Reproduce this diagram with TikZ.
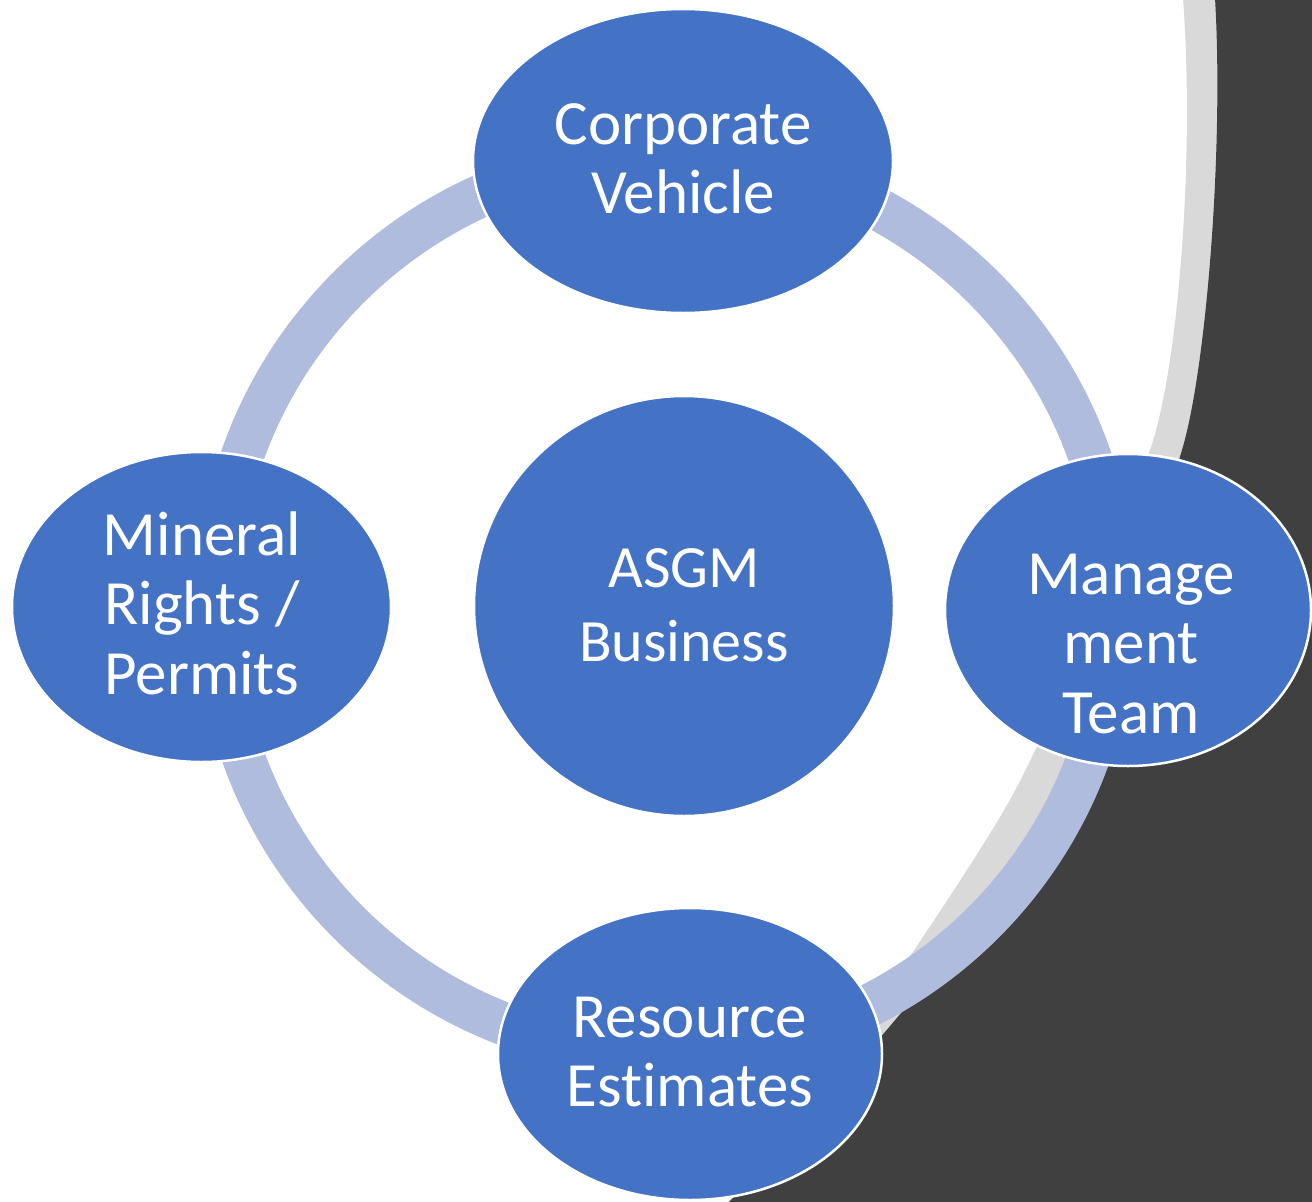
\documentclass[tikz,border=0pt]{standalone}
\usepackage{fontspec}
\setmainfont{Carlito}[Ligatures=NoCommon]
\usetikzlibrary{shapes.geometric}
\definecolor{nodeblue}{RGB}{68,114,196}
\definecolor{ringblue}{RGB}{175,188,221}
\definecolor{darkbg}{RGB}{64,64,64}
\definecolor{lightband}{RGB}{217,217,217}
\begin{document}
\begin{tikzpicture}[x=1pt,y=-1pt,
  bubble/.style={ellipse, fill=nodeblue, draw=white, line width=2.5pt, inner sep=0pt, outer sep=0pt},
  hubcircle/.style={circle, fill=nodeblue, draw=white, line width=2.5pt, inner sep=0pt, minimum size=420pt},
  txt/.style={text=white, align=center, inner sep=0pt, font=\fontsize{63}{69.5}\selectfont},
  bigtxt/.style={text=white, align=center, inner sep=0pt, font=\fontsize{60}{74}\selectfont},
  ringstyle/.style={draw=ringblue, line width=43pt}]
\useasboundingbox (0,0) rectangle (1312,1202);
\clip (0,0) rectangle (1312,1202);
\fill[white] (0,0) rectangle (1312,1202);
% light grey band and dark backdrop
\fill[lightband] (1183,-2) .. controls (1195,160) and (1178,370) .. (1150,450)
  .. controls (1115,550) and (1060,717) .. (1000,817)
  .. controls (940,917) and (800,1120) .. (725,1206)
  -- (1314,1206) -- (1314,-2) -- cycle;
\fill[darkbg] (1215,-2) .. controls (1224,150) and (1206,370) .. (1182,450)
  .. controls (1146,570) and (1085,733) .. (1030,833)
  .. controls (985,925) and (830,1100) .. (725,1206)
  -- (1314,1206) -- (1314,-2) -- cycle;
% ring
\coordinate (hub) at (666,605);
\draw[ringstyle] (hub) circle (449pt);
% nodes
\node[bubble, minimum width=420pt, minimum height=304pt] (corp) at (683,161) {};
\node[bubble, minimum width=379pt, minimum height=310pt] (mineral) at (201.5,607) {};
\node[bubble, minimum width=366pt, minimum height=312pt] (mgmt) at (1128,610) {};
\node[bubble, minimum width=384pt, minimum height=292pt] (resource) at (690,1054) {};
\node[hubcircle] (asgm) at (684,606) {};
% texts
\node[txt] (corp-t) at (683,159) {Corporate\\Vehicle};
\node[txt] (mineral-t) at (202,603) {Mineral\\Rights /\\Permits};
\node[txt] (mgmt-t) at (1131,644) {Manage\\ment\\Team};
\node[txt] (resource-t) at (690,1052) {Resource\\Estimates};
\node[bigtxt] (asgm-t) at (684,605) {ASGM\\Business};
\end{tikzpicture}
\end{document}
